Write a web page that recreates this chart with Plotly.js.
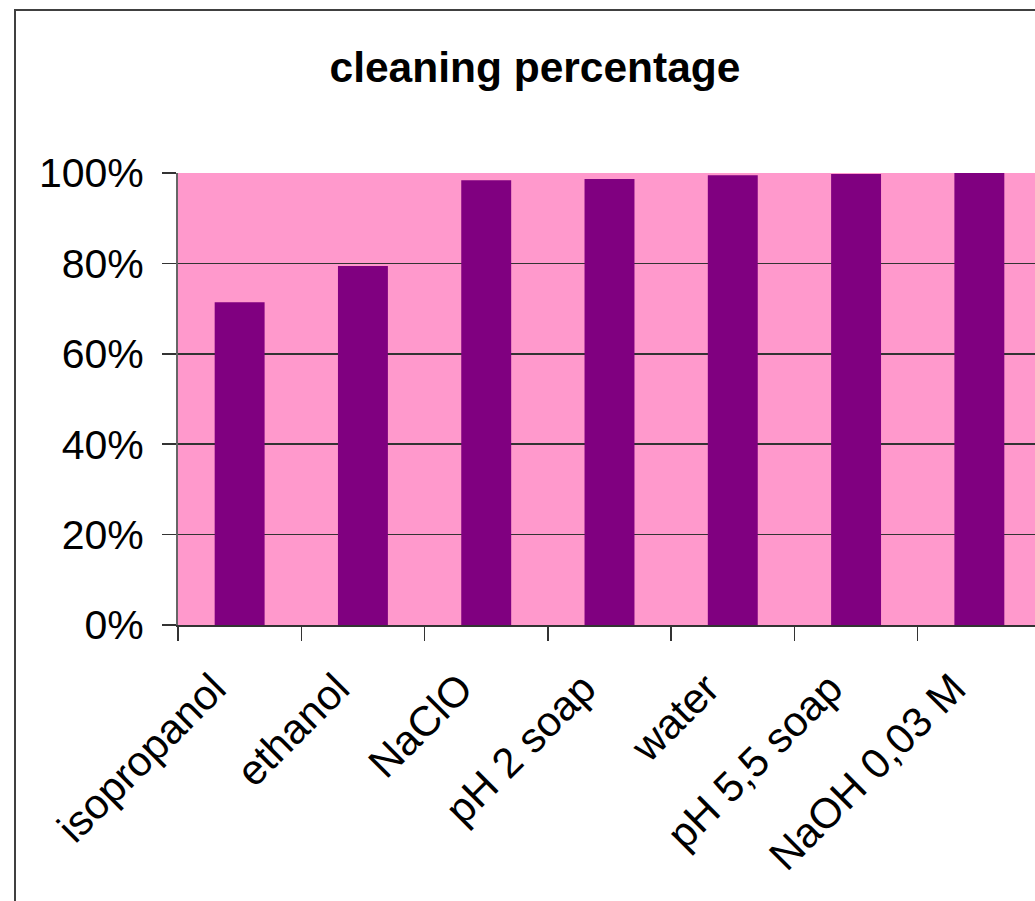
<!DOCTYPE html>
<html>
<head>
<meta charset="utf-8">
<script src="https://cdn.plot.ly/plotly-3.0.1.min.js"></script>
<style>
html, body { margin: 0; padding: 0; width: 1035px; height: 901px; overflow: hidden; background: #fff; }
#chart { position: absolute; left: 0; top: 0; }
#frame { position: absolute; left: 14px; top: 9px; width: 1100px; height: 1000px; border: 2px solid #404040; pointer-events: none; }
</style>
</head>
<body>
<div id="chart"></div>
<div id="frame"></div>
<script>
var categories = ["isopropanol", "ethanol", "NaClO", "pH 2 soap", "water", "pH 5,5 soap", "NaOH 0,03 M"];
var cleaning = [0.714, 0.794, 0.984, 0.987, 0.995, 0.998, 1.0];
var yTicks = [0, 0.2, 0.4, 0.6, 0.8, 1.0];
var yTickText = ["0%", "20%", "40%", "60%", "80%", "100%"];

var W = 1070, H = 930;
var trace = {
  type: 'bar',
  x: categories,
  y: cleaning,
  width: 0.405,
  marker: { color: '#800080', line: { width: 0 } },
  hoverinfo: 'skip'
};

var layout = {
  width: W, height: H,
  margin: { l: 178, r: 29, t: 173, b: 305, pad: 0 },
  paper_bgcolor: '#ffffff',
  plot_bgcolor: '#FF99CC',
  font: { family: 'Liberation Sans, Arial, sans-serif', color: '#000', size: 41 },
  title: {
    text: '<b>cleaning percentage</b>',
    font: { family: 'Liberation Sans, Arial, sans-serif', size: 42.5, color: '#000' },
    xref: 'container', x: 0.5, xanchor: 'center',
    yref: 'container', y: 1 - 67 / H, yanchor: 'middle'
  },
  showlegend: false,
  xaxis: {
    type: 'category',
    range: [-0.5, 6.5],
    tickmode: 'array',
    tickvals: categories,
    ticktext: categories,
    tickangle: -45,
    ticks: 'outside',
    tickson: 'boundaries',
    ticklen: 14,
    tickwidth: 1.5,
    tickcolor: '#333',
    ticklabelshift: -26,
    ticklabelstandoff: 20,
    showline: true,
    linecolor: '#333',
    linewidth: 2,
    showgrid: false,
    zeroline: false,
    tickfont: { size: 42 },
    fixedrange: true
  },
  yaxis: {
    range: [0, 1],
    tickmode: 'array',
    tickvals: yTicks,
    ticktext: yTickText,
    ticks: 'outside',
    ticklen: 14,
    tickwidth: 1.5,
    tickcolor: '#333',
    ticklabelstandoff: 10,
    showline: true,
    linecolor: '#666',
    linewidth: 2,
    showgrid: true,
    gridcolor: '#333',
    gridwidth: 1.5,
    zeroline: false,
    tickfont: { size: 41 },
    fixedrange: true
  }
};

Plotly.newPlot('chart', [trace], layout, { staticPlot: true, displayModeBar: false });
</script>
</body>
</html>
